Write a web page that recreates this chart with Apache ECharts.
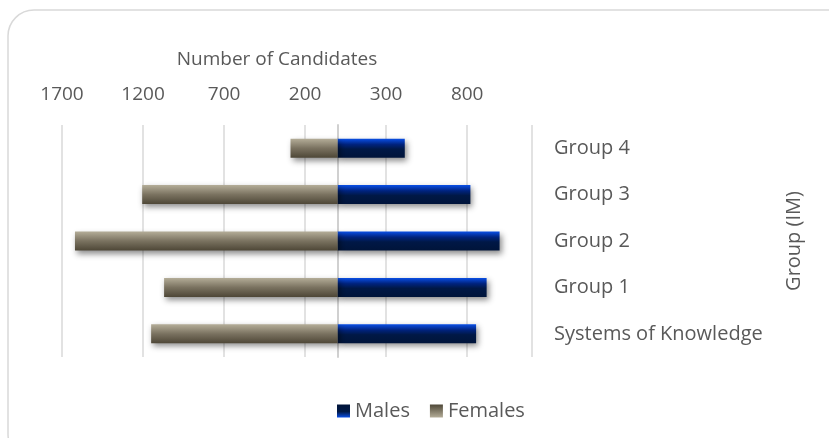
<!DOCTYPE html>
<html>
<head>
<meta charset="utf-8">
<script src="https://cdn.jsdelivr.net/npm/echarts@6/dist/echarts.min.js"></script>
<style>
  html, body { margin: 0; padding: 0; background: #fff; }
  #chart { width: 829px; height: 438px; }
</style>
</head>
<body>
<div id="chart"></div>
<script>
// data
const categories = ['Systems of Knowledge', 'Group 1', 'Group 2', 'Group 3', 'Group 4']
const males = [855, 920, 1000, 820, 415]
const females = [1150, 1070, 1620, 1205, 290]
const axisMin = -1700
const axisMax = 1200
const axisStep = 500

const FONT = '"Open Sans", "Noto Sans", sans-serif'
const TEXT = '#595959'

const maleFill = new echarts.graphic.LinearGradient(0, 0, 0, 1, [
  { offset: 0, color: '#0a4fe6' },
  { offset: 0.3, color: '#00237e' },
  { offset: 0.55, color: '#001846' },
  { offset: 1, color: '#00143a' }
])
const femaleFill = new echarts.graphic.LinearGradient(0, 0, 0, 1, [
  { offset: 0, color: '#b4ad98' },
  { offset: 0.5, color: '#7a7260' },
  { offset: 1, color: '#4e4737' }
])
// legend swatches are drawn the other way up
const maleIcon = new echarts.graphic.LinearGradient(0, 0, 0, 1, [
  { offset: 0, color: '#00143a' },
  { offset: 0.55, color: '#001846' },
  { offset: 1, color: '#0a4fe6' }
])
const femaleIcon = new echarts.graphic.LinearGradient(0, 0, 0, 1, [
  { offset: 0, color: '#4e4737' },
  { offset: 1, color: '#b4ad98' }
])

const shadow = {
  shadowColor: 'rgba(0, 0, 0, 0.45)',
  shadowBlur: 6,
  shadowOffsetX: 2,
  shadowOffsetY: 3
}

const chart = echarts.init(document.getElementById('chart'))

const option = {
  animation: false,
  textStyle: { fontFamily: FONT },
  graphic: [
    {
      type: 'rect',
      shape: { x: 8, y: 10, width: 845, height: 450, r: 26 },
      style: { fill: 'none', stroke: '#d9d9d9', lineWidth: 1.5 },
      silent: true,
      z: -10
    }
  ],
  legend: {
    left: 332,
    top: 396,
    icon: 'rect',
    itemWidth: 13,
    itemHeight: 13,
    itemGap: 20,
    textStyle: { fontSize: 20, color: TEXT, fontFamily: FONT },
    data: [
      { name: 'Males', itemStyle: { color: maleIcon } },
      { name: 'Females', itemStyle: { color: femaleIcon } }
    ]
  },
  grid: {
    left: 62,
    right: 297,
    top: 125,
    bottom: 81
  },
  xAxis: {
    type: 'value',
    position: 'top',
    min: axisMin,
    max: axisMax,
    interval: axisStep,
    name: 'Number of Candidates',
    nameLocation: 'middle',
    nameGap: 56,
    nameTextStyle: { fontSize: 19, color: TEXT, padding: [0, 40, 0, 0] },
    axisLine: { show: false },
    axisTick: { show: false },
    axisLabel: {
      fontSize: 19,
      color: TEXT,
      margin: 21,
      showMaxLabel: false,
      formatter: v => String(Math.abs(v))
    },
    splitLine: { lineStyle: { color: '#d9d9d9', width: 1.5 } }
  },
  yAxis: {
    type: 'category',
    position: 'right',
    data: categories,
    name: 'Group (IM)',
    nameLocation: 'middle',
    nameRotate: 90,
    nameGap: 252,
    nameTextStyle: { fontSize: 20, color: TEXT },
    axisLine: { show: true, lineStyle: { color: '#d0d0d0', width: 2 } },
    axisTick: { show: false },
    axisLabel: { fontSize: 20, color: TEXT, margin: 22, align: 'left' }
  },
  series: [
    {
      name: 'Males',
      type: 'bar',
      stack: 'total',
      barWidth: 19,
      data: males,
      itemStyle: Object.assign({ color: maleFill }, shadow)
    },
    {
      name: 'Females',
      type: 'bar',
      stack: 'total',
      barWidth: 19,
      data: females.map(v => -v),
      itemStyle: Object.assign({ color: femaleFill }, shadow)
    }
  ]
}

chart.setOption(option)
</script>
</body>
</html>
